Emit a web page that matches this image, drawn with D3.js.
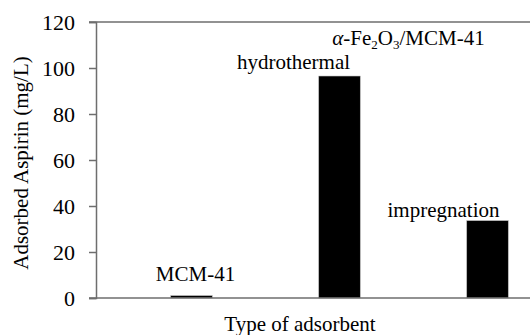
<!DOCTYPE html>
<html>
<head>
<meta charset="utf-8">
<script src="https://cdn.jsdelivr.net/npm/d3@7"></script>
<style>
  body { margin: 0; background: #fff; }
</style>
</head>
<body>
<div id="chart"></div>
<script>
// data
var categories = ["MCM-41", "hydrothermal", "impregnation"];
var values = [1.0, 96.5, 33.6];
var yTicks = [0, 20, 40, 60, 80, 100, 120];

// label placement relative to bar (dx from bar centre, dy above bar top)
var labelDx = [4, -46, -44];
var labelDy = [-15, -7, -4];

var W = 530, H = 335;
var margin = {left: 96, top: 22, bottom: 37};
var serif = "Liberation Serif";

var svg = d3.select("#chart").append("svg")
    .attr("width", W)
    .attr("height", H);

var y = d3.scaleLinear().domain([0, 120]).range([H - margin.bottom, margin.top]);
// plot area runs past the right edge of the picture
var x = d3.scaleBand().domain(categories)
    .range([117.5, 561.5])
    .paddingInner(0.72)
    .paddingOuter(0.36);

var axisColor = "#6e6e6e";

// top line at max value
svg.append("line")
    .attr("x1", margin.left - 7).attr("x2", W)
    .attr("y1", y(120)).attr("y2", y(120))
    .attr("stroke", axisColor).attr("stroke-width", 1.5);

// y axis
var yAxis = svg.append("g")
    .attr("transform", "translate(" + margin.left + ",0)")
    .call(d3.axisLeft(y).tickValues(yTicks).tickSize(7).tickPadding(14));
yAxis.attr("font-family", serif).attr("font-size", 22);
yAxis.select(".domain").attr("stroke", axisColor).attr("stroke-width", 1.5);
yAxis.selectAll(".tick line").attr("stroke", axisColor).attr("stroke-width", 1.5);
yAxis.selectAll(".tick text")
    .style("font-family", serif)
    .style("font-size", "22px")
    .attr("fill", "#000");

// bars
svg.selectAll(".bar")
    .data(values)
    .enter().append("rect")
    .attr("class", "bar")
    .attr("x", function (d, i) { return x(categories[i]); })
    .attr("y", function (d) { return y(d); })
    .attr("width", x.bandwidth())
    .attr("height", function (d) { return y(0) - y(d); })
    .attr("fill", "#000")
    .attr("stroke", "#aaa")
    .attr("stroke-width", 0.5);

// x axis line
svg.append("line")
    .attr("x1", margin.left - 7).attr("x2", W)
    .attr("y1", y(0)).attr("y2", y(0))
    .attr("stroke", axisColor).attr("stroke-width", 1.5);

// bar labels
svg.selectAll(".lbl")
    .data(values)
    .enter().append("text")
    .attr("class", "lbl")
    .attr("x", function (d, i) { return x(categories[i]) + x.bandwidth() / 2 + labelDx[i]; })
    .attr("y", function (d, i) { return y(d) + labelDy[i]; })
    .attr("text-anchor", "middle")
    .style("font-family", serif)
    .style("font-size", "21px")
    .text(function (d, i) { return categories[i]; });

// group label  α-Fe2O3/MCM-41
var g = svg.append("text")
    .attr("x", x("hydrothermal") + x.bandwidth() / 2 + 69)
    .attr("y", 45)
    .attr("text-anchor", "middle")
    .style("font-family", serif)
    .style("font-size", "21px");
g.append("tspan").style("font-style", "italic").text("α");
g.append("tspan").text("-Fe");
g.append("tspan").style("font-size", "13px").attr("dy", 4).text("2");
g.append("tspan").attr("dy", -4).text("O");
g.append("tspan").style("font-size", "13px").attr("dy", 4).text("3");
g.append("tspan").attr("dy", -4).text("/MCM-41");

// axis titles
svg.append("text")
    .attr("transform", "translate(28," + ((y(0) + y(120)) / 2 + 3) + ") rotate(-90)")
    .attr("text-anchor", "middle")
    .style("font-family", serif)
    .style("font-size", "21px")
    .text("Adsorbed Aspirin (mg/L)");

svg.append("text")
    .attr("x", 300)
    .attr("y", 331)
    .attr("text-anchor", "middle")
    .style("font-family", serif)
    .style("font-size", "21px")
    .text("Type of adsorbent");
</script>
</body>
</html>
